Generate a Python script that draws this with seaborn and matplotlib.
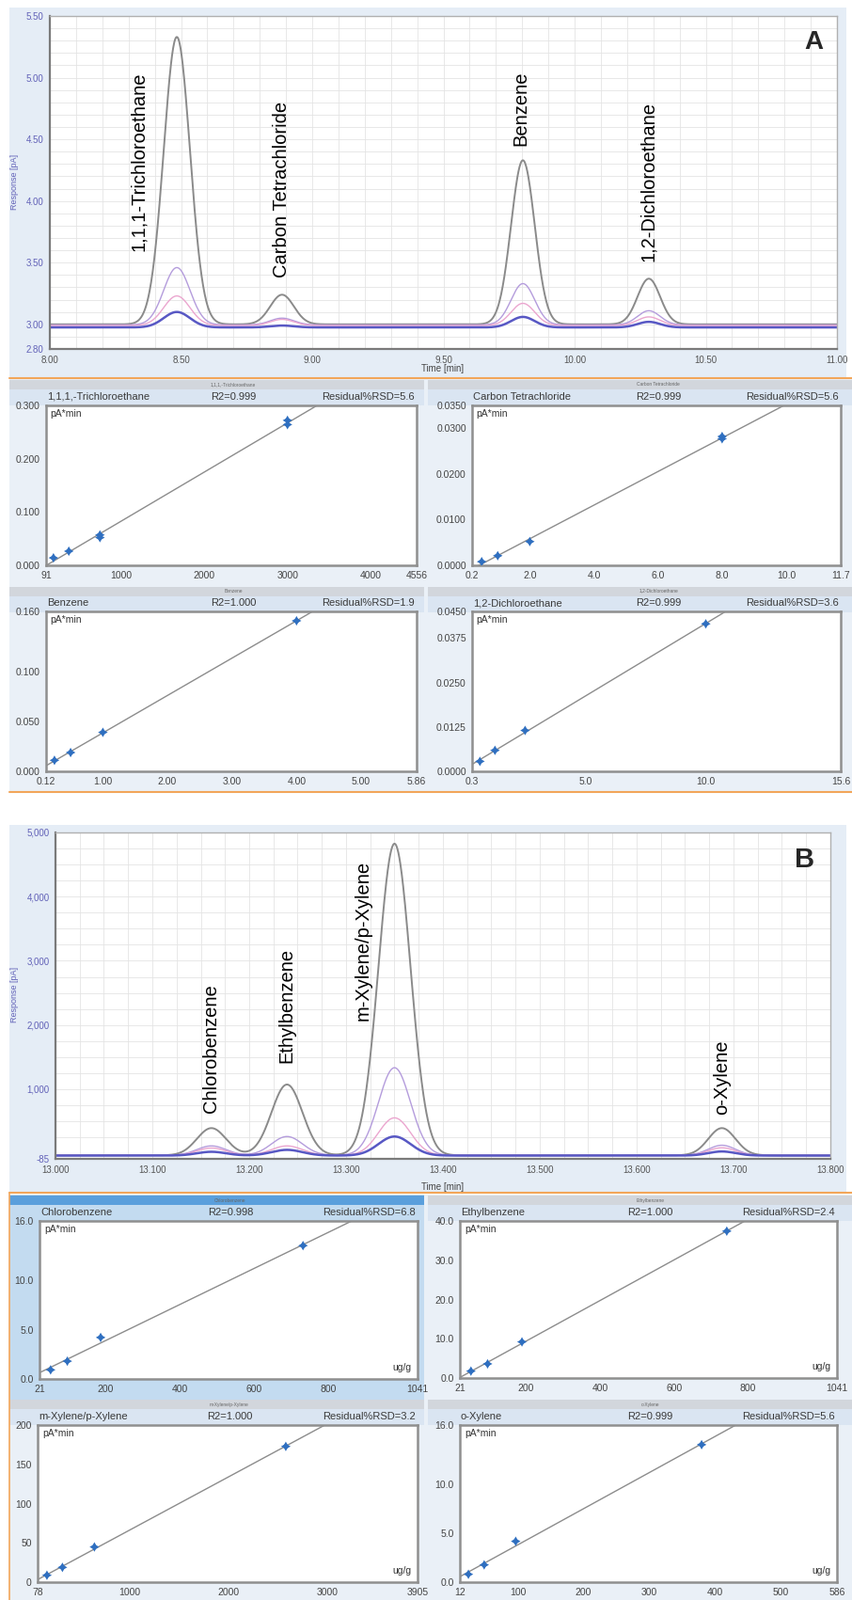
import numpy as np
import pandas as pd
import matplotlib
matplotlib.use('Agg')
import matplotlib.pyplot as plt
from matplotlib.patches import Rectangle
from matplotlib.lines import Line2D
from matplotlib.ticker import MultipleLocator, FixedLocator
import seaborn as sns

sns.set_style("white")
plt.rcParams['font.family'] = ['Liberation Sans', 'DejaVu Sans']
plt.rcParams['axes.unicode_minus'] = False

# ---------------- data: chromatogram A (peak table) ----------------
a_names = ['1,1,1-Trichloroethane', 'Carbon Tetrachloride', 'Benzene', '1,2-Dichloroethane']
a_rt = [8.484, 8.885, 9.803, 10.283]
a_sigma = [0.050, 0.045, 0.045, 0.043]
a_apex_l4 = [5.33, 3.24, 4.33, 3.37]
a_apex_l3 = [3.46, 3.05, 3.33, 3.11]
a_apex_l2 = [3.23, 3.04, 3.17, 3.06]
a_apex_l1 = [3.10, 2.99, 3.06, 3.02]
a_base = [3.00, 2.995, 2.99, 2.975]
a_label_x = [8.337, 8.885, 9.796, 10.283]
a_label_y = [3.59, 3.38, 4.45, 3.51]

# ---------------- data: chromatogram B ----------------
b_names = ['Chlorobenzene', 'Ethylbenzene', 'm-Xylene/p-Xylene', 'o-Xylene']
b_rt = [13.161, 13.239, 13.350, 13.688]
b_sigma = [0.015, 0.016, 0.0165, 0.014]
b_apex_l4 = [394, 1073, 4825, 394]
b_apex_l3 = [117, 263, 1335, 127]
b_apex_l2 = [84, 117, 554, 88]
b_apex_l1 = [25, 55, 263, 30]
b_base = [-30, -30, -32, -34]
b_label_x = [13.161, 13.239, 13.318, 13.688]
b_label_y = [636, 1407, 2062, 607]

level_colors = ['#8a8a8a', '#b49cdc', '#eba6cf', '#5858c4']
level_lw = [1.4, 1.0, 1.0, 1.8]

# ---------------- data: calibration curves ----------------
tce_x = [180, 365, 740, 740, 3000, 3000]
tce_y = [0.014, 0.0265, 0.052, 0.057, 0.264, 0.272]
ccl4_x = [0.5, 1.0, 2.0, 8.0, 8.0]
ccl4_y = [0.0008, 0.0021, 0.0052, 0.0277, 0.0282]
benz_x = [0.25, 0.5, 1.0, 4.0]
benz_y = [0.011, 0.0188, 0.039, 0.1506]
dce_x = [0.625, 1.25, 2.5, 10.0]
dce_y = [0.0028, 0.0059, 0.0115, 0.0415]
clb_x = [51, 96, 186, 732]
clb_y = [0.92, 1.8, 4.2, 13.5]
etb_x = [51, 96, 189, 743]
etb_y = [1.76, 3.6, 9.2, 37.4]
mpx_x = [172, 328, 650, 2578]
mpx_y = [8.8, 18.8, 44.8, 172.8]
ox_x = [25, 49, 97, 380]
ox_y = [0.8, 1.76, 4.16, 14.0]

W, H = 906, 1701
fig = plt.figure(figsize=(W / 100, H / 100), dpi=100)
fig.patch.set_facecolor('white')


def fbox(l, t, r, b):
    return [l / W, 1 - b / H, (r - l) / W, (b - t) / H]


def rect(l, t, r, b, color, z=-10):
    fig.add_artist(Rectangle((l / W, 1 - b / H), (r - l) / W, (b - t) / H,
                             transform=fig.transFigure, facecolor=color,
                             edgecolor='none', zorder=z))


def hline(y, l, r, color, lw):
    fig.add_artist(Line2D([l / W, r / W], [1 - y / H, 1 - y / H],
                          transform=fig.transFigure, color=color, lw=lw, zorder=-5))


def ftext(x, y, s, **kw):
    fig.text(x / W, 1 - y / H, s, **kw)


ORANGE = '#f2a65a'
PANEL = '#e5edf6'
CALBG = '#eaf0f7'
HEAD = '#dae5f2'
BAR = '#d2d6dc'

# ---------------- backgrounds ----------------
rect(10, 8, 900, 402, PANEL)
hline(402, 10, 906, ORANGE, 1.5)
rect(10, 403, 906, 842, CALBG)
for top in (404, 624):
    rect(10, top, 451, top + 10, BAR)
    rect(455, top, 906, top + 10, BAR)
    rect(10, top + 10, 451, top + 27, HEAD)
    rect(455, top + 10, 906, top + 27, HEAD)
hline(842, 10, 906, ORANGE, 1.5)

rect(10, 877, 900, 1268, PANEL)
hline(1268, 10, 906, ORANGE, 1.5)
rect(10, 1270, 906, 1701, CALBG)
rect(10, 1270, 451, 1488, '#c3dbf0')
rect(10, 1271, 451, 1281, '#5a9fdc')
rect(455, 1271, 906, 1281, BAR)
rect(455, 1281, 906, 1298, HEAD)
rect(10, 1488, 451, 1498, BAR)
rect(455, 1488, 906, 1498, BAR)
rect(10, 1498, 451, 1515, HEAD)
rect(455, 1498, 906, 1515, HEAD)
fig.add_artist(Line2D([10 / W, 10 / W], [0, 1 - 1268 / H], transform=fig.transFigure,
                      color=ORANGE, lw=1.2, zorder=-5))


# ---------------- chromatograms ----------------
def trace(t, base, rts, sigmas, apexes):
    y = np.full_like(t, base, dtype=float)
    for rt, s, ap in zip(rts, sigmas, apexes):
        y += (ap - base) * np.exp(-0.5 * ((t - rt) / s) ** 2)
    return y


def draw_chrom(ax, t, rts, sigmas, apex_sets, bases, names, lx, ly, fs=14.5):
    rows = []
    for lev, (apexes, base) in enumerate(zip(apex_sets, bases)):
        rows.append(pd.DataFrame({'time': t, 'response': trace(t, base, rts, sigmas, apexes),
                                  'level': lev}))
    df = pd.concat(rows, ignore_index=True)
    for lev in range(4):
        sns.lineplot(data=df[df['level'] == lev], x='time', y='response', ax=ax,
                     color=level_colors[lev], lw=level_lw[lev], estimator=None, sort=False)
    for name, x, y in zip(names, lx, ly):
        ax.text(x, y, name, rotation=90, ha='center', va='bottom', fontsize=fs, color='black')
    ax.set_xlabel('')
    ax.set_ylabel('')
    ax.set_facecolor('white')
    ax.grid(which='both', color='#e4e4e4', lw=0.6)
    ax.set_axisbelow(True)
    for side in ('left', 'bottom'):
        ax.spines[side].set_color('#7a7a7a')
        ax.spines[side].set_linewidth(1.6)
    for side in ('top', 'right'):
        ax.spines[side].set_color('#b0b0b0')
        ax.spines[side].set_linewidth(1.0)
    ax.tick_params(which='both', direction='out', color='#888888', labelsize=7)
    ax.tick_params(which='major', length=3)
    ax.tick_params(which='minor', length=2)
    ax.tick_params(axis='y', labelcolor='#6262b8', pad=1.5)
    ax.tick_params(axis='x', labelcolor='#555555', pad=2)


# A
axA = fig.add_axes(fbox(53, 17, 890, 371))
tA = np.linspace(8.0, 11.0, 1501)
draw_chrom(axA, tA, a_rt, a_sigma, [a_apex_l4, a_apex_l3, a_apex_l2, a_apex_l1],
           a_base, a_names, a_label_x, a_label_y)
axA.set_xlim(8.0, 11.0)
axA.set_ylim(2.80, 5.50)
axA.set_xticks([8.0, 8.5, 9.0, 9.5, 10.0, 10.5, 11.0])
axA.set_xticklabels(['8.00', '8.50', '9.00', '9.50', '10.00', '10.50', '11.00'])
axA.set_yticks([2.8, 3.0, 3.5, 4.0, 4.5, 5.0, 5.5])
axA.set_yticklabels(['2.80', '3.00', '3.50', '4.00', '4.50', '5.00', '5.50'])
axA.xaxis.set_minor_locator(MultipleLocator(0.1))
axA.yaxis.set_minor_locator(MultipleLocator(0.1))
ftext(471, 392, 'Time [min]', fontsize=7, color='#444444', ha='center', va='center')
ftext(15, 193, 'Response [pA]', fontsize=6.5, color='#6262b8', ha='center', va='center', rotation=90)
ftext(865, 45, 'A', fontsize=20, fontweight='bold', ha='center', va='center')

# B
axB = fig.add_axes(fbox(59, 885, 883, 1232))
tB = np.linspace(13.0, 13.8, 1601)
draw_chrom(axB, tB, b_rt, b_sigma, [b_apex_l4, b_apex_l3, b_apex_l2, b_apex_l1],
           b_base, b_names, b_label_x, b_label_y)
axB.set_xlim(13.0, 13.8)
axB.set_ylim(-85, 5000)
xb = [13.0 + 0.1 * i for i in range(9)]
axB.set_xticks(xb)
axB.set_xticklabels(['%.3f' % v for v in xb])
axB.set_yticks([-85, 1000, 2000, 3000, 4000, 5000])
axB.set_yticklabels(['-85', '1,000', '2,000', '3,000', '4,000', '5,000'])
axB.xaxis.set_minor_locator(MultipleLocator(0.025))
axB.yaxis.set_minor_locator(FixedLocator([250 * i for i in range(1, 20) if i % 4]))
ftext(471, 1262, 'Time [min]', fontsize=7, color='#444444', ha='center', va='center')
ftext(15, 1057, 'Response [pA]', fontsize=6.5, color='#6262b8', ha='center', va='center', rotation=90)
ftext(856, 914, 'B', fontsize=21, fontweight='bold', ha='center', va='center')


# ---------------- calibration panels ----------------
def draw_cal(box, x, y, xlim, ylim, xt, xtl, yt, ytl, xminor, yminor, head, unit=False):
    l, t, r, b = box
    ax = fig.add_axes(fbox(l, t, r, b))
    ax.set_facecolor('white')
    ax.set_xlim(xlim)
    ax.set_ylim(ylim)
    sns.regplot(x=np.array(x, float), y=np.array(y, float), ax=ax, scatter=False, ci=None,
                truncate=False, line_kws=dict(color='#8c8c8c', lw=1.0))
    sns.scatterplot(x=x, y=y, ax=ax, marker='D', s=14, color='#2f6fc0',
                    edgecolor='none', zorder=3)
    sns.scatterplot(x=x, y=y, ax=ax, marker=(4, 1, 0), s=55, color='#2f6fc0',
                    edgecolor='none', zorder=3)
    ax.set_xlim(xlim)
    ax.set_ylim(ylim)
    ax.set_xticks(xt)
    ax.set_xticklabels(xtl)
    ax.set_yticks(yt)
    ax.set_yticklabels(ytl)
    ax.xaxis.set_minor_locator(MultipleLocator(xminor))
    ax.yaxis.set_minor_locator(MultipleLocator(yminor))
    ax.set_xlabel('')
    ax.set_ylabel('')
    for sp in ax.spines.values():
        sp.set_color('#8f8f8f')
        sp.set_linewidth(1.8)
    ax.tick_params(which='both', direction='out', color='#888888', labelsize=7.5,
                   labelcolor='#444444')
    ax.tick_params(which='major', length=3, pad=1.5)
    ax.tick_params(which='minor', length=2)
    ax.text(0.012, 0.975, 'pA*min', transform=ax.transAxes, ha='left', va='top',
            fontsize=7.5, color='#333333')
    if unit:
        ax.text(0.985, 0.04, 'ug/g', transform=ax.transAxes, ha='right', va='bottom',
                fontsize=7.5, color='#333333')
    name, r2, rsd = head
    ftext(l + 1, t - 9, name, fontsize=8, color='#3a3a3a', ha='left', va='center')
    ftext((l + r) / 2 + 2, t - 9, r2, fontsize=8, color='#3a3a3a', ha='center', va='center')
    ftext(r - 2, t - 9, rsd, fontsize=8, color='#3a3a3a', ha='right', va='center')
    ftext((l + r) / 2 + 2, t - 22, name, fontsize=3.5, color='#666666', ha='center', va='center')
    return ax


draw_cal((49, 431, 443, 601), tce_x, tce_y, (91, 4556), (0, 0.300),
         [91, 1000, 2000, 3000, 4000, 4556], ['91', '1000', '2000', '3000', '4000', '4556'],
         [0, 0.1, 0.2, 0.3], ['0.000', '0.100', '0.200', '0.300'], 250, 0.02,
         ('1,1,1,-Trichloroethane', 'R2=0.999', 'Residual%RSD=5.6'))
draw_cal((502, 431, 894, 601), ccl4_x, ccl4_y, (0.2, 11.7), (0, 0.035),
         [0.2, 2, 4, 6, 8, 10, 11.7], ['0.2', '2.0', '4.0', '6.0', '8.0', '10.0', '11.7'],
         [0, 0.01, 0.02, 0.03, 0.035], ['0.0000', '0.0100', '0.0200', '0.0300', '0.0350'],
         0.5, 0.0025, ('Carbon Tetrachloride', 'R2=0.999', 'Residual%RSD=5.6'))
draw_cal((49, 650, 443, 820), benz_x, benz_y, (0.12, 5.86), (0, 0.160),
         [0.12, 1, 2, 3, 4, 5, 5.86], ['0.12', '1.00', '2.00', '3.00', '4.00', '5.00', '5.86'],
         [0, 0.05, 0.1, 0.16], ['0.000', '0.050', '0.100', '0.160'], 0.25, 0.01,
         ('Benzene', 'R2=1.000', 'Residual%RSD=1.9'))
draw_cal((502, 650, 894, 820), dce_x, dce_y, (0.3, 15.6), (0, 0.045),
         [0.3, 5, 10, 15.6], ['0.3', '5.0', '10.0', '15.6'],
         [0, 0.0125, 0.025, 0.0375, 0.045], ['0.0000', '0.0125', '0.0250', '0.0375', '0.0450'],
         1.0, 0.0025, ('1,2-Dichloroethane', 'R2=0.999', 'Residual%RSD=3.6'))

draw_cal((42, 1298, 444, 1466), clb_x, clb_y, (21, 1041), (0, 16),
         [21, 200, 400, 600, 800, 1041], ['21', '200', '400', '600', '800', '1041'],
         [0, 5, 10, 16], ['0.0', '5.0', '10.0', '16.0'], 50, 1,
         ('Chlorobenzene', 'R2=0.998', 'Residual%RSD=6.8'), unit=True)
draw_cal((489, 1298, 890, 1465), etb_x, etb_y, (21, 1041), (0, 40),
         [21, 200, 400, 600, 800, 1041], ['21', '200', '400', '600', '800', '1041'],
         [0, 10, 20, 30, 40], ['0.0', '10.0', '20.0', '30.0', '40.0'], 50, 2,
         ('Ethylbenzene', 'R2=1.000', 'Residual%RSD=2.4'), unit=True)
draw_cal((40, 1515, 444, 1682), mpx_x, mpx_y, (78, 3905), (0, 200),
         [78, 1000, 2000, 3000, 3905], ['78', '1000', '2000', '3000', '3905'],
         [0, 50, 100, 150, 200], ['0', '50', '100', '150', '200'], 250, 10,
         ('m-Xylene/p-Xylene', 'R2=1.000', 'Residual%RSD=3.2'), unit=True)
draw_cal((489, 1515, 890, 1682), ox_x, ox_y, (12, 586), (0, 16),
         [12, 100, 200, 300, 400, 500, 586], ['12', '100', '200', '300', '400', '500', '586'],
         [0, 5, 10, 16], ['0.0', '5.0', '10.0', '16.0'], 25, 1,
         ('o-Xylene', 'R2=0.999', 'Residual%RSD=5.6'), unit=True)

fig.savefig('out.png', dpi=100, facecolor='white')
